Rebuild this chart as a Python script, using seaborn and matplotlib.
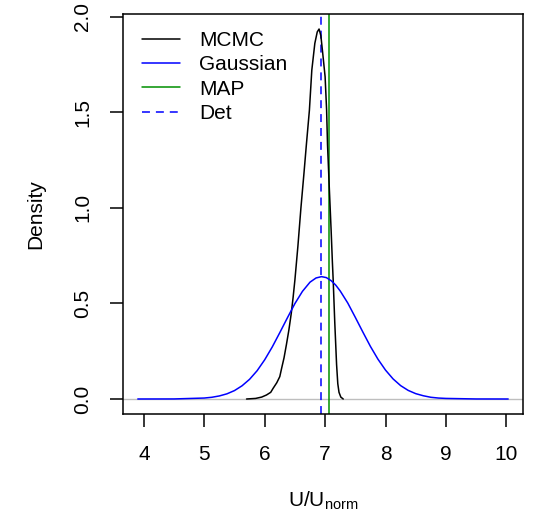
import numpy as np
import pandas as pd
import matplotlib
matplotlib.use("Agg")
import matplotlib.pyplot as plt
import seaborn as sns

# MCMC posterior density
mcmc_x = [5.70, 5.85, 5.95, 6.03, 6.10, 6.14, 6.20, 6.25, 6.28, 6.32, 6.36, 6.40,
          6.44, 6.47, 6.50, 6.55, 6.60, 6.65, 6.69, 6.74, 6.78, 6.83, 6.87, 6.90,
          6.93, 6.96, 7.00, 7.025, 7.04, 7.07, 7.10, 7.12, 7.134, 7.16, 7.19, 7.21,
          7.23, 7.26, 7.30]
mcmc_y = [0.000, 0.003, 0.010, 0.021, 0.035, 0.056, 0.085, 0.117, 0.160, 0.215, 0.285, 0.360,
          0.448, 0.530, 0.622, 0.800, 1.000, 1.180, 1.330, 1.510, 1.720, 1.860, 1.920, 1.935,
          1.900, 1.810, 1.686, 1.511, 1.330, 1.100, 0.880, 0.720, 0.620, 0.400, 0.180, 0.080,
          0.035, 0.010, 0.000]

# Gaussian approximation
gauss_x = [3.90, 4.50, 5.00, 5.125, 5.25, 5.375, 5.50, 5.625, 5.75, 5.875, 6.00, 6.125,
           6.25, 6.375, 6.50, 6.625, 6.75, 6.85, 6.94, 7.02, 7.10, 7.175, 7.25, 7.375,
           7.50, 7.625, 7.75, 7.875, 8.00, 8.125, 8.25, 8.375, 8.50, 8.625, 8.75, 8.875,
           9.00, 9.50, 10.03]
gauss_y = [0.000, 0.0003, 0.005, 0.009, 0.016, 0.027, 0.044, 0.069, 0.103, 0.148, 0.205, 0.272,
           0.347, 0.424, 0.499, 0.563, 0.611, 0.633, 0.640, 0.635, 0.619, 0.596, 0.565, 0.502,
           0.427, 0.350, 0.275, 0.208, 0.151, 0.105, 0.070, 0.045, 0.028, 0.017, 0.009, 0.005,
           0.003, 0.0002, 0.000]

map_value = 7.06
det_value = 6.94

x_ticks = [4, 5, 6, 7, 8, 9, 10]
y_ticks = [0.0, 0.5, 1.0, 1.5, 2.0]
y_ticklabels = ["0.0", "0.5", "1.0", "1.5", "2.0"]

sns.set_style("ticks")
plt.rcParams['font.family'] = ['Liberation Sans', 'DejaVu Sans']
plt.rcParams['mathtext.fontset'] = 'custom'
plt.rcParams['mathtext.rm'] = 'Liberation Sans'
plt.rcParams['mathtext.it'] = 'Liberation Sans'
plt.rcParams['text.color'] = 'black'
plt.rcParams['axes.labelcolor'] = 'black'

fig = plt.figure(figsize=(5.38, 5.15), dpi=100)
ax = fig.add_axes([0.2286, 0.1961, 0.7435, 0.7767])

green = "#009000"
lw = 1.1
fs = 15

ax.axhline(0, color="#BEBEBE", lw=1.0, zorder=1)
sns.lineplot(x=mcmc_x, y=mcmc_y, color="black", lw=lw, ax=ax, label="MCMC", zorder=3)
sns.lineplot(x=gauss_x, y=gauss_y, color="blue", lw=lw, ax=ax, label="Gaussian", zorder=3)
ax.axvline(map_value, color=green, lw=lw, label="MAP", zorder=2)
ax.axvline(det_value, color="blue", lw=lw, dashes=(5.2, 3.9), label="Det", zorder=2)

ax.set_xlim(3.655, 10.275)
ax.set_ylim(-0.0785, 2.0136)
ax.set_xticks(x_ticks)
ax.set_xticklabels([str(t) for t in x_ticks])
ax.set_yticks(y_ticks)
ax.set_yticklabels(y_ticklabels, rotation=90, va="center")

ax.tick_params(axis="both", direction="out", length=9.4, width=1.1, pad=13,
               labelsize=fs, colors="black")
for sp in ax.spines.values():
    sp.set_visible(True)
    sp.set_color("black")
    sp.set_linewidth(1.1)

ax.set_xlabel(r"U/U$_{\mathrm{norm}}$", fontsize=fs)
ax.set_ylabel("Density", fontsize=fs)
ax.xaxis.set_label_coords(0.5, -0.19)
ax.yaxis.set_label_coords(-0.195, 0.5)

ax.legend(loc="upper left", bbox_to_anchor=(0.047, 0.958), frameon=False,
          borderaxespad=0, borderpad=0, handlelength=1.85, handletextpad=0.9,
          labelspacing=0.26, fontsize=fs, labelcolor="black")

fig.savefig("out.png", dpi=100)
